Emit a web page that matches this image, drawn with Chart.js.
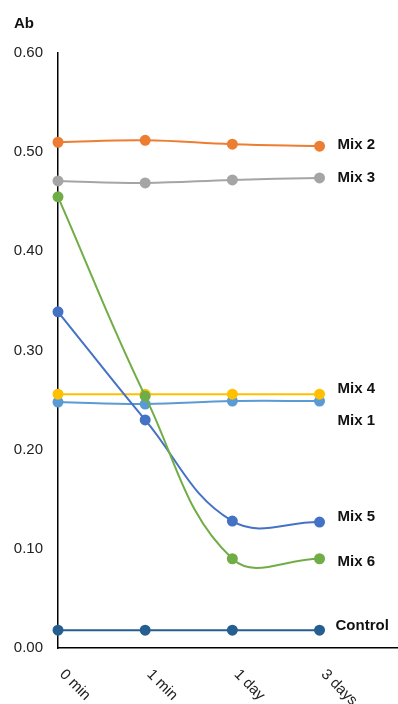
<!DOCTYPE html>
<html>
<head>
<meta charset="utf-8">
<script src="https://cdn.jsdelivr.net/npm/chart.js@4"></script>
<style>
  html, body { margin: 0; padding: 0; background: #fff; }
  #wrap { width: 398px; height: 704px; }
</style>
</head>
<body>
<div id="wrap"><canvas id="c" width="398" height="704"></canvas></div>
<script>
// Time points and absorbance readings per mix
const categories = ['0 min', '1 min', '1 day', '3 days'];
const mix1    = [0.248, 0.246, 0.249, 0.249];
const mix2    = [0.510, 0.512, 0.508, 0.506];
const mix3    = [0.471, 0.469, 0.472, 0.474];
const mix4    = [0.256, 0.256, 0.256, 0.256];
const mix5    = [0.339, 0.230, 0.128, 0.127];
const mix6    = [0.455, 0.254, 0.090, 0.090];
const control = [0.018, 0.018, 0.018, 0.018];
const yTickValues = [0, 0.1, 0.2, 0.3, 0.4, 0.5, 0.6];

// Series styling; end labels are nudged vertically (px) to avoid collisions
const series = [
  { name: 'Mix 1',   values: mix1,    color: '#5B9BD5', dx: 18, dy: 20 },
  { name: 'Mix 4',   values: mix4,    color: '#FFC000', dx: 18, dy: -5 },
  { name: 'Mix 2',   values: mix2,    color: '#ED7D31', dx: 18, dy: -1 },
  { name: 'Mix 3',   values: mix3,    color: '#A5A5A5', dx: 18, dy: 0 },
  { name: 'Mix 5',   values: mix5,    color: '#4472C4', dx: 18, dy: -5 },
  { name: 'Mix 6',   values: mix6,    color: '#70AD47', dx: 18, dy: 3 },
  { name: 'Control', values: control, color: '#255E91', dx: 16, dy: -4 }
];

const FONT = '"Liberation Sans", Arial, sans-serif';

// Series names written at the right end of each line
const endLabels = {
  id: 'endLabels',
  afterDatasetsDraw(chart) {
    const ctx = chart.ctx;
    ctx.save();
    ctx.font = 'bold 15px ' + FONT;
    ctx.fillStyle = '#111';
    ctx.textAlign = 'left';
    ctx.textBaseline = 'middle';
    chart.data.datasets.forEach((ds, i) => {
      const pts = chart.getDatasetMeta(i).data;
      const last = pts[pts.length - 1];
      ctx.fillText(ds.label, last.x + ds.labelDx, last.y + ds.labelDy);
    });
    ctx.restore();
  }
};

// Category names slanted downward to the right under each tick, plus the axis title
const slantedTicks = {
  id: 'slantedTicks',
  afterDraw(chart) {
    const ctx = chart.ctx;
    const xs = chart.scales.x;
    const base = chart.chartArea.bottom;
    ctx.save();
    ctx.font = '15px ' + FONT;
    ctx.fillStyle = '#222';
    ctx.textAlign = 'left';
    ctx.textBaseline = 'middle';
    categories.forEach((c, i) => {
      const x = xs.getPixelForValue(i);
      ctx.save();
      ctx.translate(x + 4, base + 24);
      ctx.rotate(Math.PI / 4);
      ctx.fillText(c, 0, 0);
      ctx.restore();
    });
    ctx.font = 'bold 15px ' + FONT;
    ctx.fillStyle = '#111';
    ctx.textBaseline = 'alphabetic';
    ctx.fillText('Ab', 14, 28);
    ctx.restore();
  }
};

const datasets = series.map((s, i) => ({
  label: s.name,
  data: s.values.map((v, k) => ({ x: k, y: v })),
  borderColor: s.color,
  backgroundColor: s.color,
  pointBackgroundColor: s.color,
  pointBorderColor: s.color,
  pointRadius: 4.5,
  borderWidth: 2,
  tension: 0.4,
  fill: false,
  clip: false,
  order: series.length - i,
  labelDx: s.dx,
  labelDy: s.dy
}));

new Chart(document.getElementById('c'), {
  type: 'line',
  data: { datasets },
  options: {
    responsive: false,
    animation: false,
    layout: { autoPadding: false, padding: { top: 53, left: 0, right: 0, bottom: 0 } },
    plugins: { legend: { display: false }, tooltip: { enabled: false } },
    scales: {
      x: {
        type: 'linear',
        min: 0,
        max: 3.9,
        grid: { display: false, drawTicks: false },
        border: { color: '#000', width: 1.5 },
        ticks: { display: false },
        afterFit(s) { s.height = 56; }
      },
      y: {
        min: 0,
        max: 0.6,
        grid: { display: false, drawTicks: false },
        border: { color: '#000', width: 1.5 },
        afterBuildTicks(s) { s.ticks = yTickValues.map(v => ({ value: v })); },
        ticks: {
          padding: 15,
          color: '#222',
          font: { family: FONT, size: 15 },
          callback: v => Number(v).toFixed(2)
        },
        afterFit(s) { s.width = 58; }
      }
    }
  },
  plugins: [endLabels, slantedTicks]
});
</script>
</body>
</html>
